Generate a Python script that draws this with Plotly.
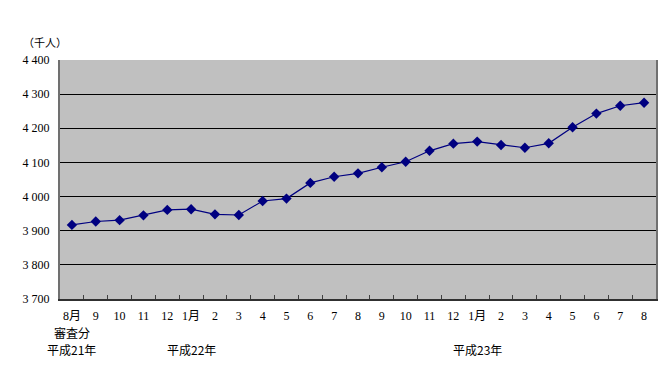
import plotly.graph_objects as go

# Data
keys = [f"p{i}" for i in range(25)]
tick_labels = ["8月", "9", "10", "11", "12", "1月", "2", "3", "4", "5", "6", "7",
               "8", "9", "10", "11", "12", "1月", "2", "3", "4", "5", "6", "7", "8"]
values = [3917, 3927, 3931, 3945, 3961, 3963, 3948, 3946, 3987, 3994, 4040, 4058,
          4068, 4086, 4102, 4134, 4155, 4161, 4151, 4143, 4156, 4203, 4243, 4266, 4275]
year_labels = [("審査分", 0, -0.14), ("平成21年", 0, -0.212), ("平成22年", 5, -0.212), ("平成23年", 17, -0.212)]
y_ticks = [3700, 3800, 3900, 4000, 4100, 4200, 4300, 4400]

FONT = '"Liberation Serif", "Noto Sans CJK JP", serif'
JFONT = '"Noto Sans CJK JP", sans-serif'

fig = go.Figure()
fig.add_trace(go.Scatter(
    x=keys, y=values, mode="lines+markers",
    line=dict(color="#000080", width=1.2),
    marker=dict(symbol="diamond", size=8, color="#000080"),
    showlegend=False,
))

for text, idx, yy in year_labels:
    fig.add_annotation(x=keys[idx], y=yy, xref="x", yref="paper", text=text,
                       showarrow=False, font=dict(family=JFONT, size=12, color="#000"),
                       xanchor="center", yanchor="middle")

fig.add_annotation(x=-0.065, y=1.0, xref="paper", yref="paper", text="（千人）",
                   showarrow=False, font=dict(family=JFONT, size=11, color="#000"),
                   xanchor="left", yanchor="bottom", yshift=8)

fig.update_layout(
    width=663, height=364,
    margin=dict(l=52, r=15, t=52, b=73, autoexpand=False),
    paper_bgcolor="white", plot_bgcolor="#C0C0C0",
    separators=". ",
    font=dict(family=FONT, size=12, color="#000"),
)
fig.update_xaxes(
    type="category", tickvals=keys, ticktext=tick_labels, tickson="boundaries",
    ticks="inside", ticklen=4, tickcolor="#404040", tickwidth=1, tickangle=0,
    showgrid=False, showline=True, linecolor="#303030", linewidth=2,
    tickfont=dict(family=FONT, size=12, color="#000"), range=[-0.5, 24.5],
    automargin=False, ticklabelstandoff=5,
)
fig.update_yaxes(
    range=[3700, 4400], tickvals=y_ticks, tickformat=",d",
    showgrid=True, gridcolor="#000000", gridwidth=1,
    showline=True, linecolor="#707070", linewidth=2, mirror=True,
    ticks="", ticklabelstandoff=6, zeroline=False, automargin=False,
    tickfont=dict(family=FONT, size=12, color="#000"),
)
fig.write_html("out.html")
